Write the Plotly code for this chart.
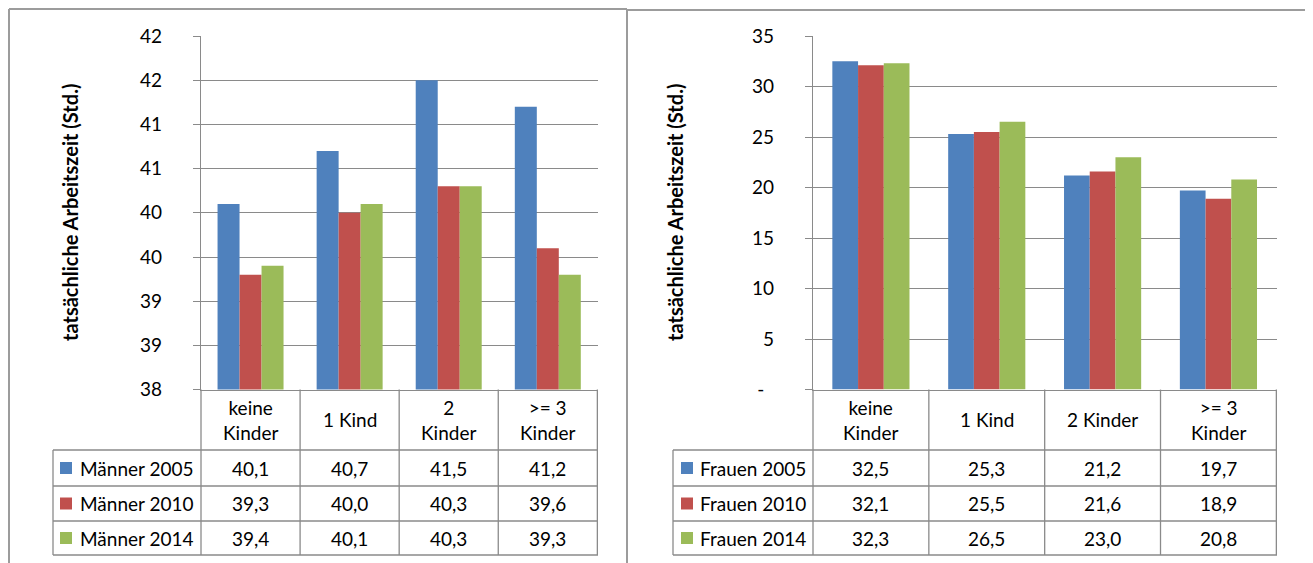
import plotly.graph_objects as go

# ---------------- data ----------------
categories_m = ["keine<br>Kinder", "1 Kind", "2<br>Kinder", ">= 3<br>Kinder"]
categories_f = ["keine<br>Kinder", "1 Kind", "2 Kinder", ">= 3<br>Kinder"]
series_m = ["Männer 2005", "Männer 2010", "Männer 2014"]
series_f = ["Frauen 2005", "Frauen 2010", "Frauen 2014"]
men_2005 = [40.1, 40.7, 41.5, 41.2]
men_2010 = [39.3, 40.0, 40.3, 39.6]
men_2014 = [39.4, 40.1, 40.3, 39.3]
women_2005 = [32.5, 25.3, 21.2, 19.7]
women_2010 = [32.1, 25.5, 21.6, 18.9]
women_2014 = [32.3, 26.5, 23.0, 20.8]
men_tickvals = [38, 38.5, 39, 39.5, 40, 40.5, 41, 41.5, 42]
men_ticktext = ["38", "39", "39", "40", "40", "41", "41", "42", "42"]
women_tickvals = [0, 5, 10, 15, 20, 25, 30, 35]
women_ticktext = ["-\u00a0\u00a0", "5", "10", "15", "20", "25", "30", "35"]
y_title = "tatsächliche Arbeitszeit (Std.)"

# ---------------- style / layout ----------------
W, H = 1313, 563
OFF = 8  # page body margin
COLORS = ["#4F81BD", "#C0504D", "#9BBB59"]
GRID = "#8a8a8a"
BORDER = "#9c9c9c"
FONT = "Lato"
FS = 19


def px(x):
    return (x - OFF) / W


def py(y):
    return 1 - (y - OFF) / H


PLOT_TOP, PLOT_BOT = 36, 389.6
ROWS = [450, 486, 521, 555]          # table row boundaries (pixels)
panels = [
    dict(ax="", cats=categories_m, names=series_m,
         vals=[men_2005, men_2010, men_2014], x0=201, x1=598, leg=53,
         sq=60, txt=78, title_x=56, rng=[38, 42],
         tv=men_tickvals, tt=men_ticktext),
    dict(ax="2", cats=categories_f, names=series_f,
         vals=[women_2005, women_2010, women_2014], x0=813, x1=1277, leg=673,
         sq=681, txt=698, title_x=675, rng=[0, 35],
         tv=women_tickvals, tt=women_ticktext),
]

fig = go.Figure()
shapes = []
annotations = []

for p in panels:
    xa = "x" + p["ax"]
    ya = "y" + p["ax"]
    for name, vals, col in zip(p["names"], p["vals"], COLORS):
        fig.add_trace(go.Bar(x=p["cats"], y=vals, name=name, marker_color=col,
                             marker_line_width=0, xaxis=xa, yaxis=ya,
                             showlegend=False, hoverinfo="skip"))
    key = p["ax"]
    fig.update_layout({
        "xaxis" + key: dict(domain=[px(p["x0"]), px(p["x1"])], type="category",
                            categoryorder="array", categoryarray=p["cats"],
                            showticklabels=False, showgrid=False, ticks="",
                            showline=True, linecolor=GRID, linewidth=1.3,
                            anchor=ya, fixedrange=True, automargin=False),
        "yaxis" + key: dict(domain=[py(PLOT_BOT), py(PLOT_TOP)], range=p["rng"],
                            tickvals=p["tv"], ticktext=p["tt"], showgrid=True,
                            gridcolor=GRID, gridwidth=1.3, zeroline=False,
                            showline=True, linecolor=GRID, linewidth=1.3,
                            ticks="outside", ticklen=7, tickcolor=GRID,
                            tickwidth=1.3, ticklabelstandoff=27,
                            tickfont=dict(family=FONT, size=FS, color="#000"),
                            anchor=xa, fixedrange=True, automargin=False),
    })
    xref = xa
    ncat = len(p["cats"])
    # vertical table lines (category boundaries)
    for i in range(1, ncat + 1):
        shapes.append(dict(type="line", xref=xref, yref="paper",
                           x0=i - 0.5, x1=i - 0.5, y0=py(PLOT_BOT), y1=py(ROWS[-1]),
                           line=dict(color=GRID, width=1.3)))
    shapes.append(dict(type="line", xref="paper", yref="paper",
                       x0=px(p["x0"]), x1=px(p["x0"]), y0=py(PLOT_BOT), y1=py(ROWS[-1]),
                       line=dict(color=GRID, width=1.3)))
    shapes.append(dict(type="line", xref="paper", yref="paper",
                       x0=px(p["leg"]), x1=px(p["leg"]), y0=py(ROWS[0]), y1=py(ROWS[-1]),
                       line=dict(color=GRID, width=1.3)))
    for r in ROWS:
        shapes.append(dict(type="line", xref="paper", yref="paper",
                           x0=px(p["leg"]), x1=px(p["x1"]), y0=py(r), y1=py(r),
                           line=dict(color=GRID, width=1.3)))
    # header labels
    for c in p["cats"]:
        annotations.append(dict(xref=xref, yref="paper", x=c,
                                y=py((PLOT_BOT + ROWS[0]) / 2), text=c,
                                showarrow=False, yanchor="middle",
                                font=dict(family=FONT, size=FS, color="#000")))
    # rows
    for j, (name, vals, col) in enumerate(zip(p["names"], p["vals"], COLORS)):
        yc = (ROWS[j] + ROWS[j + 1]) / 2
        shapes.append(dict(type="rect", xref="paper", yref="paper",
                           x0=px(p["sq"]), x1=px(p["sq"] + 12),
                           y0=py(yc + 6), y1=py(yc - 6),
                           fillcolor=col, line=dict(width=0)))
        annotations.append(dict(xref="paper", yref="paper", x=px(p["txt"]), y=py(yc),
                                text=name, showarrow=False, xanchor="left",
                                yanchor="middle",
                                font=dict(family=FONT, size=FS, color="#000")))
        for c, v in zip(p["cats"], vals):
            annotations.append(dict(xref=xref, yref="paper", x=c, y=py(yc),
                                    text=f"{v:.1f}".replace(".", ","),
                                    showarrow=False, yanchor="middle",
                                    font=dict(family=FONT, size=FS, color="#000")))
    # y axis title
    annotations.append(dict(xref="paper", yref="paper", x=px(p["title_x"]),
                            y=py(213), text="<b>" + y_title + "</b>",
                            textangle=-90, showarrow=False,
                            font=dict(family=FONT, size=20, color="#000")))

# panel borders (kept just inside the drawable page area)
for (x0, x1, y0) in [(9, 627, 9), (627, 1306, 10)]:
    shapes.append(dict(type="line", xref="paper", yref="paper",
                       x0=px(x0), x1=px(x1), y0=py(y0), y1=py(y0),
                       line=dict(color=BORDER, width=2)))
for (x, y0) in [(9, 9), (627, 9), (1306, 10)]:
    shapes.append(dict(type="line", xref="paper", yref="paper",
                       x0=px(x), x1=px(x), y0=py(y0), y1=py(600),
                       line=dict(color=BORDER, width=2)))

fig.update_layout(
    width=W, height=H, margin=dict(l=0, r=0, t=0, b=0, pad=0, autoexpand=False),
    paper_bgcolor="white", plot_bgcolor="white",
    barmode="group", bargap=0.334, bargroupgap=0,
    shapes=shapes, annotations=annotations,
    font=dict(family=FONT, size=FS, color="#000"),
)

fig.write_html("out.html", config={"displayModeBar": False})
